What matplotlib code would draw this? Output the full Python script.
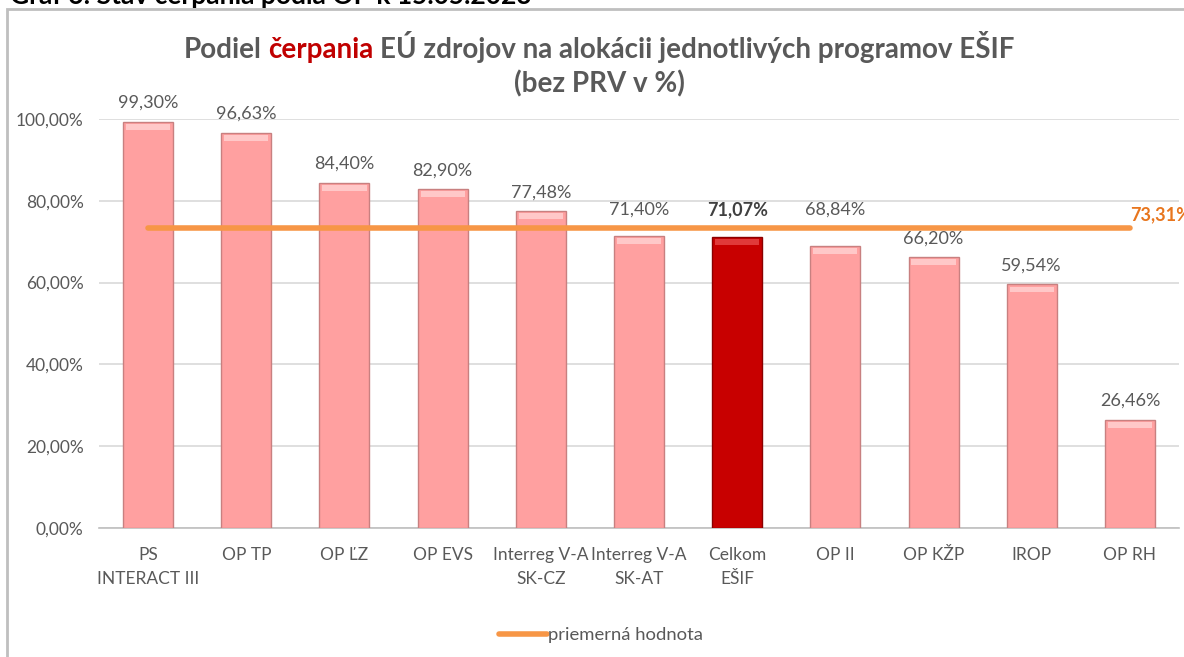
import matplotlib
matplotlib.use('Agg')
import matplotlib.pyplot as plt
from matplotlib.patches import Rectangle
from matplotlib.lines import Line2D

plt.rcParams['font.family'] = ['Lato', 'DejaVu Sans']

# data
programs = ['PS\nINTERACT III', 'OP TP', 'OP ĽZ', 'OP EVS', 'Interreg V-A\nSK-CZ',
            'Interreg V-A\nSK-AT', 'Celkom\nEŠIF', 'OP II', 'OP KŽP', 'IROP', 'OP RH']
values = [99.30, 96.63, 84.40, 82.90, 77.48, 71.40, 71.07, 68.84, 66.20, 59.54, 26.46]
total_name = 'Celkom\nEŠIF'
average = 73.31
yticks = [0, 20, 40, 60, 80, 100]

pink = '#FFA0A0'
pink_edge = '#C88080'
dark = '#C80000'
dark_edge = '#8A0000'
orange = '#F79646'
txt = '#595959'

def pct(v):
    return ('%.2f%%' % v).replace('.', ',')

W, H = 1184, 657
fig = plt.figure(figsize=(W / 100, H / 100), dpi=100)

# outer frame of the chart area
fig.patches.append(Rectangle((7/W, -0.05), 1.2, 1 - 9/H + 0.05, transform=fig.transFigure,
                             fill=False, edgecolor='#BFBFBF', linewidth=2))

# caption above the frame, cut off by the top edge as in the source
fig.text(10/W, 1 - 4/H, 'Graf 6: Stav čerpania podľa OP k 15.05.2023', fontsize=19,
         fontweight='bold', color='black', va='baseline', ha='left')

ax = fig.add_axes([99/W, 1 - 528/H, 1080/W, 409/H])
x = list(range(len(programs)))
colors = [dark if p == total_name else pink for p in programs]
edges = [dark_edge if p == total_name else pink_edge for p in programs]
ax.bar(x, values, width=0.51, color=colors, edgecolor=edges, linewidth=1, zorder=3)
# light bevel strip on top of each bar
hl = ['#E03A3A' if p == total_name else '#FFC8C8' for p in programs]
ax.bar(x, [1.4] * len(values), bottom=[v - 1.9 for v in values], width=0.45,
       color=hl, linewidth=0, zorder=4)

for xi, v, p in zip(x, values, programs):
    bold = p == total_name
    y = v + 4.6
    # labels close to the average line are lifted above it
    if average - 6 < v < average + 5:
        y = max(y, average + 4.5)
    ax.text(xi, y, pct(v), ha='center', va='center', fontsize=13,
            color='#404040' if bold else txt, fontweight='bold' if bold else 'normal')

# average line
ax.plot([x[0], x[-1]], [average, average], color=orange, linewidth=4, solid_capstyle='round',
        zorder=5)
ax.text(x[-1], average + 1.3, pct(average), color='#E8761E', fontsize=13, fontweight='bold',
        ha='left', va='bottom', clip_on=False)

ax.set_xlim(-0.5, len(programs) - 0.5)
ax.set_ylim(0, 100)
ax.set_yticks(yticks)
ax.set_yticklabels([pct(t) for t in yticks], fontsize=12.5, color=txt)
ax.set_xticks(x)
ax.set_xticklabels(programs, fontsize=12.5, color=txt, linespacing=1.6)
ax.tick_params(axis='both', length=0)
ax.tick_params(axis='x', pad=14)
ax.tick_params(axis='y', pad=11)
ax.grid(axis='y', color='#D9D9D9', linewidth=1.2, zorder=0)
for s in ['top', 'right', 'left']:
    ax.spines[s].set_visible(False)
ax.spines['bottom'].set_color('#BFBFBF')
ax.spines['bottom'].set_linewidth(1.2)
ax.spines['bottom'].set_zorder(2)

# title with one coloured word, centred as a whole, all parts on one baseline
r = fig.canvas.get_renderer()
tkw = dict(fontsize=20, fontweight='bold', va='baseline', ha='left')

def width(s):
    t = fig.text(0, 0, s, **tkw)
    w = t.get_window_extent(r).width
    t.remove()
    return w

head, word, tail = 'Podiel', 'čerpania', 'EÚ zdrojov na alokácii jednotlivých programov EŠIF'
full = head + ' ' + word + ' ' + tail
x0 = 599 - width(full) / 2
ty = 1 - 58/H
fig.text(x0 / W, ty, head, color=txt, **tkw)
fig.text((x0 + width(head + ' ' + word) - width(word)) / W, ty, word, color='#C00000', **tkw)
fig.text((x0 + width(full) - width(tail)) / W, ty, tail, color=txt, **tkw)
fig.text(599/W, 1 - 92/H, '(bez PRV v %)', fontsize=20, fontweight='bold', color=txt,
         va='baseline', ha='center')

# legend
handle = Line2D([], [], color=orange, linewidth=4, solid_capstyle='round')
fig.legend([handle], ['priemerná hodnota'], loc='center', bbox_to_anchor=(601/W, 1 - 635/H),
           frameon=False, fontsize=13.3, labelcolor=txt, handlelength=2.6, handletextpad=0.1)

fig.savefig('out.png', dpi=100)
